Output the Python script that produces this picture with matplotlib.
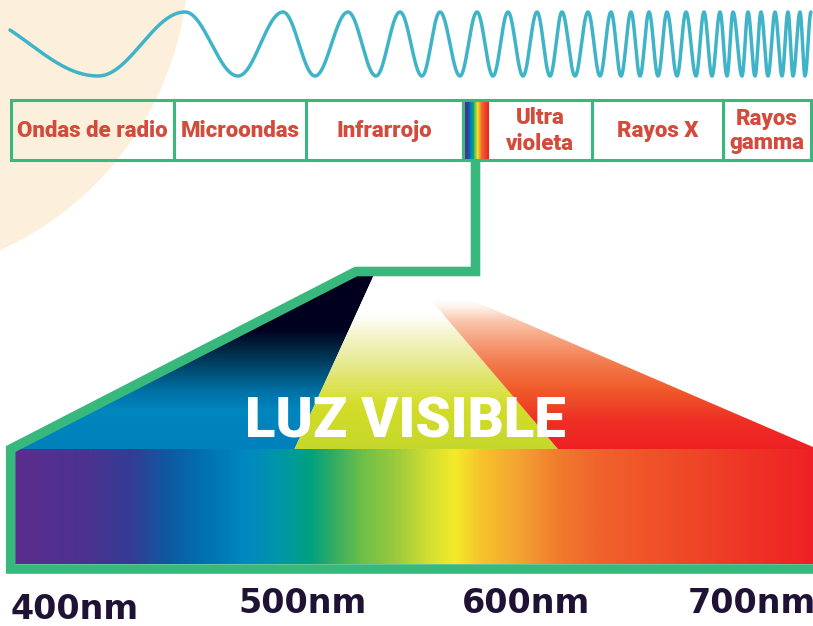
import numpy as np
import matplotlib
matplotlib.use("Agg")
import matplotlib.pyplot as plt
from matplotlib.patches import Circle, Polygon, Rectangle
from matplotlib.colors import to_rgba

# band labels and the x edges of their cells
band_labels = ["Ondas de radio", "Microondas", "Infrarrojo", "", "Ultra\nvioleta", "Rayos X", "Rayos\ngamma"]
band_edges = [10.5, 174, 306, 463, 488, 592, 723, 811]

# wave: x of the alternating troughs / peaks
wave_start = 10
wave_extremes = [98, 185, 238, 283, 315, 348, 376, 400, 422, 440, 460, 477, 493, 508,
                 523, 537, 550, 562, 575, 588, 600, 611, 621, 631, 640, 649, 658, 667,
                 677, 686, 696, 704, 712, 720, 727, 733, 742, 748, 755, 761, 768, 775,
                 782, 788, 793, 800, 805, 811]

# visible spectrum colour stops (x position, colour)
spec_x = [15, 90, 130, 170, 210, 245, 280, 310, 335, 360, 395, 430, 455, 480, 520, 560, 600, 680, 813]
spec_c = ["#5b2d8e", "#4b3391", "#343c94", "#0d5ba2", "#0074b4", "#0088c0", "#0096a8", "#00a17e",
          "#35ae62", "#6cbe48", "#9aca3e", "#d4e030", "#f4ea28", "#f6c42c", "#f4a232", "#f07a2e",
          "#f0622c", "#ef4a28", "#ee2025"]

nm_labels = ["400nm", "500nm", "600nm", "700nm"]

GREEN = "#38b87c"
RED_TXT = "#d24b3b"
WAVE = "#3fb4c8"


def stops_to_rgba(pos, colors, samples):
    cols = np.array([to_rgba(c) if isinstance(c, str) else c for c in colors])
    out = np.zeros((len(samples), 4))
    for k in range(4):
        out[:, k] = np.interp(samples, pos, cols[:, k])
    return out


def vgradient(ax, poly, x0, x1, y0, y1, pos, colors):
    ys = np.linspace(y0, y1, 400)
    img = stops_to_rgba(pos, colors, ys)[:, None, :]
    im = ax.imshow(img, extent=(x0, x1, y1, y0), aspect="auto", interpolation="bilinear", zorder=2)
    patch = Polygon(poly, closed=True, transform=ax.transData)
    im.set_clip_path(patch)


def main():
    fig = plt.figure(figsize=(8.13, 6.26), dpi=100)
    ax = fig.add_axes([0, 0, 1, 1])

    ax.add_patch(Circle((-132, -42), 320, color="#fcf0dc", zorder=0))

    # chirped wave
    ext = np.array([wave_start] + wave_extremes, dtype=float)
    phase = np.concatenate([[1.118], np.pi * np.arange(1, len(wave_extremes) + 1)])
    xs = np.linspace(wave_start, wave_extremes[-1], 4000)
    ph = np.interp(xs, ext, phase)
    ys = 44 - 32 * np.cos(ph)
    ax.plot(xs, ys, color=WAVE, lw=2.5, solid_capstyle="round", zorder=3)

    # band boxes
    ax.add_patch(Rectangle((band_edges[0], 100), band_edges[-1] - band_edges[0], 60,
                           fill=False, ec=GREEN, lw=2.2, zorder=4))
    for e in band_edges[1:-1]:
        if e == 488:
            continue
        ax.plot([e, e], [100, 160], color=GREEN, lw=2.2, zorder=4)
    for i, lab in enumerate(band_labels):
        if not lab:
            continue
        cx = (band_edges[i] + band_edges[i + 1]) / 2
        lines = lab.split("\n")
        n = len(lines)
        for j, line in enumerate(lines):
            ax.text(cx, 137 + (j - (n - 1) / 2) * 25, line, ha="center", va="baseline",
                    color=RED_TXT, fontsize=16, fontweight=900, family="Roboto", zorder=5)

    # mini spectrum in the band box
    mini_x = np.linspace(463.5, 488, 200)
    mini = stops_to_rgba(np.interp(spec_x, [15, 813], [463.5, 488]), spec_c, mini_x)[None, :, :]
    ax.imshow(mini, extent=(463.5, 488, 159, 101), aspect="auto", interpolation="bilinear", zorder=3)

    # light cone
    vgradient(ax, [(8, 455), (8, 449), (356, 271.5), (375.5, 271.5), (291.8, 455)],
              0, 400, 271, 455,
              [271, 330, 350, 370, 392, 410, 455],
              ["#00001e", "#00021f", "#002a45", "#004c72", "#0072a6", "#0086be", "#0080bc"])
    vgradient(ax, [(375.5, 271.5), (291.8, 455), (563, 455), (407, 271.5)],
              280, 570, 271, 455,
              [271, 315, 335, 360, 385, 405, 455],
              ["#ffffff", "#ffffff", "#f4f4cc", "#e8ea98", "#dde35a", "#d4dd28", "#c3d72c"])
    vgradient(ax, [(431, 300), (563, 455), (813, 455), (813, 447), (471.7, 300)],
              420, 813, 300, 455,
              [300, 306, 320, 340, 365, 390, 420, 455],
              [(0.98, 0.80, 0.70, 0.0), (0.98, 0.82, 0.72, 0.25), "#f9c8b0", "#f6a07c",
               "#f2784a", "#f05a2a", "#ee3026", "#ee1c24"])

    # visible spectrum bar
    bar_x = np.linspace(15, 813, 800)
    bar = stops_to_rgba(spec_x, spec_c, bar_x)[None, :, :]
    ax.imshow(bar, extent=(15, 813, 564, 449), aspect="auto", interpolation="bilinear", zorder=3)

    # green connector / frame
    path = [(475.5, 160), (475.5, 271.5), (356, 271.5), (10.7, 449), (10.7, 569), (813, 569)]
    ax.plot([p[0] for p in path], [p[1] for p in path], color=GREEN, lw=6.9,
            solid_joinstyle="miter", solid_capstyle="butt", zorder=6)

    ax.text(405, 437, "LUZ VISIBLE", ha="center", va="baseline", color="white",
            fontsize=40.5, fontweight=900, family="Roboto", zorder=7)

    nm_x = [11, 238, 462, 688]
    nm_base = [619, 613, 613, 613]
    for x, yb, lab in zip(nm_x, nm_base, nm_labels):
        ax.text(x, yb, lab, ha="left", va="baseline", color="#1f1235",
                fontsize=24, fontweight="bold", family="DejaVu Sans", zorder=7)

    ax.set_xlim(0, 813)
    ax.set_ylim(626, 0)
    ax.axis("off")
    fig.savefig("out.png", dpi=100)


if __name__ == "__main__":
    main()
